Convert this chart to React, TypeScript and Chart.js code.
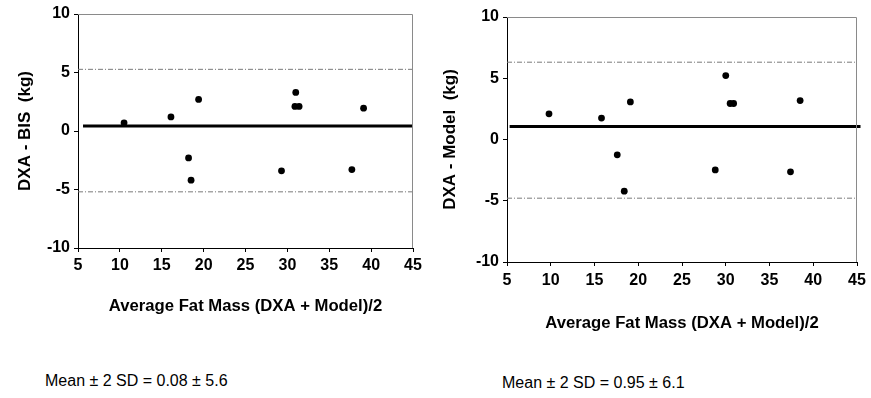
import React, { useEffect, useRef } from "react";
import { Chart, registerables } from "chart.js";

Chart.register(...registerables);

// ---- data ----
const xTickValues = [5, 10, 15, 20, 25, 30, 35, 40, 45];
const yTickValues = [-10, -5, 0, 5, 10];

const bisAvg = [10.5, 16.1, 19.4, 18.2, 18.5, 29.3, 31.0, 30.9, 31.4, 37.7, 39.1];
const bisDiff = [0.7, 1.2, 2.7, -2.3, -4.2, -3.4, 3.3, 2.1, 2.1, -3.3, 1.95];
const bisMeanLine = 0.43;
const bisUpper = 5.27;
const bisLower = -5.2;
const bisMeanStartX = 5.6;

const modelAvg = [9.8, 15.8, 19.1, 17.6, 18.4, 28.8, 30.0, 30.5, 30.9, 37.4, 38.5];
const modelDiff = [2.1, 1.75, 3.07, -1.25, -4.22, -2.48, 5.22, 2.94, 2.94, -2.64, 3.18];
const modelMeanLine = 1.06;
const modelUpper = 6.31;
const modelLower = -4.79;
const modelMeanStartX = 5.3;
const modelMeanEndX = 45.4;

const leftYTitle = "DXA - BIS  (kg)";
const rightYTitle = "DXA - Model  (kg)";
const xTitle = "Average Fat Mass (DXA + Model)/2";
const leftNote = "Mean \u00b1 2 SD = 0.08 \u00b1 5.6";
const rightNote = "Mean \u00b1 2 SD = 0.95 \u00b1 6.1";

const FONT = "'Liberation Sans', Arial, Helvetica, sans-serif";

const frameBorder = {
  id: "frameBorder",
  afterDatasetsDraw(chart: any) {
    const { ctx, chartArea } = chart;
    ctx.save();
    ctx.strokeStyle = "#8a8a8a";
    ctx.lineWidth = 1;
    ctx.beginPath();
    ctx.moveTo(chartArea.left, chartArea.top + 0.5);
    ctx.lineTo(chartArea.right - 0.5, chartArea.top + 0.5);
    ctx.lineTo(chartArea.right - 0.5, chartArea.bottom);
    ctx.stroke();
    ctx.restore();
  },
};

type Cfg = {
  width: number;
  height: number;
  padLeft: number;
  padTop: number;
  padRight: number;
  yWidth: number;
  xHeight: number;
  avg: number[];
  diff: number[];
  mean: number;
  upper: number;
  lower: number;
  meanStart: number;
  meanEnd: number;
  yTitle: string;
  tickPad: number;
};

function BA({ cfg }: { cfg: Cfg }) {
  const ref = useRef<HTMLCanvasElement | null>(null);
  useEffect(() => {
    if (!ref.current) return;
    const pts = cfg.avg.map((x, i) => ({ x, y: cfg.diff[i] }));
    const chart = new Chart(ref.current, {
      type: "scatter",
      data: {
        datasets: [
          {
            data: pts,
            backgroundColor: "#000",
            borderWidth: 0,
            pointRadius: 3.4,
            showLine: false,
          },
          {
            data: [
              { x: cfg.meanStart, y: cfg.mean },
              { x: cfg.meanEnd, y: cfg.mean },
            ],
            showLine: true,
            borderColor: "#000",
            borderWidth: 3,
            pointRadius: 0,
            clip: false as any,
          },
          {
            data: [
              { x: 5, y: cfg.upper },
              { x: 45, y: cfg.upper },
            ],
            showLine: true,
            borderColor: "#7a7a7a",
            borderWidth: 1,
            borderDash: [5, 2, 1, 2],
            pointRadius: 0,
          },
          {
            data: [
              { x: 5, y: cfg.lower },
              { x: 45, y: cfg.lower },
            ],
            showLine: true,
            borderColor: "#7a7a7a",
            borderWidth: 1,
            borderDash: [5, 2, 1, 2],
            pointRadius: 0,
          },
        ] as any,
      },
      options: {
        responsive: false,
        animation: false,
        events: [],
        layout: {
          padding: { left: cfg.padLeft, top: cfg.padTop, right: cfg.padRight, bottom: 0 },
        },
        plugins: {
          legend: { display: false },
          tooltip: { enabled: false },
        },
        scales: {
          x: {
            type: "linear",
            min: 5,
            max: 45,
            afterBuildTicks: (s: any) => {
              s.ticks = xTickValues.map((v) => ({ value: v }));
            },
            afterFit: (s: any) => {
              s.height = cfg.xHeight;
            },
            grid: {
              display: true,
              drawOnChartArea: false,
              drawTicks: true,
              tickLength: 4,
              color: "#000",
            },
            border: { display: true, color: "#000", width: 1 },
            ticks: {
              color: "#000",
              padding: cfg.tickPad,
              maxRotation: 0,
              font: { family: FONT, size: 16, weight: "bold" },
            },
            title: {
              display: true,
              text: xTitle,
              color: "#000",
              padding: { top: 4, bottom: 4 },
              font: { family: FONT, size: 16.7, weight: "bold" },
            },
          },
          y: {
            type: "linear",
            min: -10,
            max: 10,
            afterBuildTicks: (s: any) => {
              s.ticks = yTickValues.map((v) => ({ value: v }));
            },
            afterFit: (s: any) => {
              s.width = cfg.yWidth;
            },
            grid: {
              display: true,
              drawOnChartArea: false,
              drawTicks: true,
              tickLength: 4,
              color: "#000",
            },
            border: { display: true, color: "#000", width: 1 },
            ticks: {
              color: "#000",
              padding: 4,
              font: { family: FONT, size: 16, weight: "bold" },
            },
            title: {
              display: true,
              text: cfg.yTitle,
              color: "#000",
              padding: { top: 4, bottom: 4 },
              font: { family: FONT, size: 17, weight: "bold" },
            },
          },
        },
      } as any,
      plugins: [frameBorder],
    });
    return () => chart.destroy();
  }, [cfg]);
  return (
    <canvas
      ref={ref}
      width={cfg.width}
      height={cfg.height}
      style={{ width: cfg.width, height: cfg.height, display: "block" }}
    />
  );
}

const leftCfg: Cfg = {
  width: 435,
  height: 320,
  padLeft: 11,
  padTop: 14,
  padRight: 22,
  yWidth: 67,
  xHeight: 72,
  avg: bisAvg,
  diff: bisDiff,
  mean: bisMeanLine,
  upper: bisUpper,
  lower: bisLower,
  meanStart: bisMeanStartX,
  meanEnd: 45,
  yTitle: leftYTitle,
  tickPad: 4,
};

const rightCfg: Cfg = {
  width: 441,
  height: 337,
  padLeft: 6,
  padTop: 17,
  padRight: 14,
  yWidth: 71,
  xHeight: 75,
  avg: modelAvg,
  diff: modelDiff,
  mean: modelMeanLine,
  upper: modelUpper,
  lower: modelLower,
  meanStart: modelMeanStartX,
  meanEnd: modelMeanEndX,
  yTitle: rightYTitle,
  tickPad: 5,
};

export default function App() {
  return (
    <div
      style={{
        position: "fixed",
        left: 0,
        top: 0,
        width: 871,
        height: 398,
        background: "#fff",
        overflow: "hidden",
      }}
    >
      <div style={{ position: "absolute", left: 0, top: 0 }}>
        <BA cfg={leftCfg} />
      </div>
      <div style={{ position: "absolute", left: 430, top: 0 }}>
        <BA cfg={rightCfg} />
      </div>
      <div
        style={{
          position: "absolute",
          left: 45,
          top: 372,
          fontFamily: FONT,
          fontSize: 16,
          color: "#000",
          whiteSpace: "nowrap",
          lineHeight: "18px",
        }}
      >
        {leftNote}
      </div>
      <div
        style={{
          position: "absolute",
          left: 502,
          top: 374,
          fontFamily: FONT,
          fontSize: 16,
          color: "#000",
          whiteSpace: "nowrap",
          lineHeight: "18px",
        }}
      >
        {rightNote}
      </div>
    </div>
  );
}
